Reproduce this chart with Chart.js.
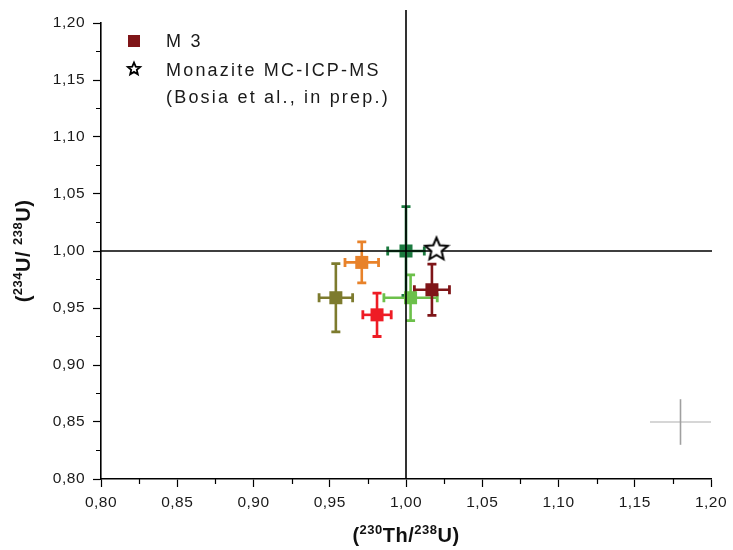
<!DOCTYPE html>
<html><head><meta charset="utf-8">
<style>html,body{margin:0;padding:0;background:#fff}</style>
<script src="https://cdn.jsdelivr.net/npm/chart.js@4.4.1/dist/chart.umd.min.js"></script>
</head><body>
<canvas id="c" width="733" height="550"></canvas>
<script>
// ---- data ----
const sampleNames = ['Orange', 'Olive', 'Red', 'Light green', 'M 3', 'Dark green'];
const sampleColors = ['#E8822A', '#7D7B2E', '#EE1C25', '#6CC04A', '#7F1518', '#1B7A3F'];
const th230U238 = [0.971, 0.954, 0.981, 1.003, 1.017, 1.000];
const u234U238 = [0.990, 0.959, 0.944, 0.959, 0.966, 1.000];
const th230Err = [0.011, 0.011, 0.0093, 0.0175, 0.0115, 0.012];
const u234Err = [0.018, 0.030, 0.019, 0.020, 0.0225, 0.039];
const monaziteX = [1.020];
const monaziteY = [1.002];
const scaleCrossX = [1.18];
const scaleCrossY = [0.85];
const scaleCrossErrX = [0.02];
const scaleCrossErrY = [0.02];
const axisMin = 0.80, axisMax = 1.20, majorStep = 0.05, minorStep = 0.025;
const equilibrium = 1.00;
const legendLabels = ['M 3', 'Monazite MC-ICP-MS', '(Bosia et al., in prep.)'];
const xTitleParts = [['(', 0], ['230', 1], ['Th/', 0], ['238', 1], ['U)', 0]];
const yTitleParts = [['(', 0], ['234', 1], ['U/ ', 0], ['238', 1], ['U)', 0]];

function fmt(v) { return v.toFixed(2).replace('.', ','); }

function drawStar(ctx, cx, cy, R, lw) {
  const r = R * 0.45;
  ctx.beginPath();
  for (let i = 0; i < 10; i++) {
    const a = -Math.PI / 2 + i * Math.PI / 5;
    const rr = i % 2 === 0 ? R : r;
    const px = cx + rr * Math.cos(a), py = cy + rr * Math.sin(a);
    if (i === 0) ctx.moveTo(px, py); else ctx.lineTo(px, py);
  }
  ctx.closePath();
  ctx.fillStyle = '#fff';
  ctx.fill();
  ctx.lineWidth = lw;
  ctx.strokeStyle = '#000';
  ctx.lineJoin = 'miter';
  ctx.stroke();
}

const starImg = document.createElement('canvas');
starImg.width = 28; starImg.height = 28;
drawStar(starImg.getContext('2d'), 14, 14.8, 12, 2);

function drawRich(ctx, parts, big, small, rise) {
  let w = 0;
  parts.forEach(p => { ctx.font = (p[1] ? small : big); w += ctx.measureText(p[0]).width; });
  let x = -w / 2;
  parts.forEach(p => {
    ctx.font = (p[1] ? small : big);
    ctx.fillText(p[0], x, p[1] ? -rise : 0);
    x += ctx.measureText(p[0]).width;
  });
}

const overlay = {
  id: 'overlay',
  beforeDraw(chart) { chart.ctx.letterSpacing = '0.5px'; },
  beforeDatasetDraw(chart, args) {
    const ctx = chart.ctx, xs = chart.scales.x, ys = chart.scales.y;
    const ds = chart.data.datasets[args.index];
    if (ds.errX) {
      ctx.save();
      ds.data.forEach((d, i) => {
        const cx = xs.getPixelForValue(d.x), cy = ys.getPixelForValue(d.y);
        const x0 = xs.getPixelForValue(d.x - ds.errX[i]), x1 = xs.getPixelForValue(d.x + ds.errX[i]);
        const y0 = ys.getPixelForValue(d.y - ds.errY[i]), y1 = ys.getPixelForValue(d.y + ds.errY[i]);
        const col = Array.isArray(ds.errColor) ? ds.errColor[i] : ds.errColor;
        const cap = ds.capSize || 0;
        ctx.strokeStyle = col;
        ctx.lineWidth = ds.errWidth;
        ctx.lineCap = 'butt';
        ctx.beginPath();
        ctx.moveTo(x0, cy); ctx.lineTo(x1, cy);
        ctx.stroke();
        if (ds.errColorV) ctx.strokeStyle = ds.errColorV;
        ctx.beginPath();
        ctx.moveTo(cx, y0); ctx.lineTo(cx, y1);
        ctx.stroke();
        if (cap) {
          ctx.strokeStyle = col;
          ctx.lineWidth = 2.8;
          ctx.beginPath();
          ctx.moveTo(x0, cy - cap); ctx.lineTo(x0, cy + cap);
          ctx.moveTo(x1, cy - cap); ctx.lineTo(x1, cy + cap);
          ctx.moveTo(cx - cap, y0); ctx.lineTo(cx + cap, y0);
          ctx.moveTo(cx - cap, y1); ctx.lineTo(cx + cap, y1);
          ctx.stroke();
        }
      });
      ctx.restore();
    }
    if (args.index === 0) {
      // equilibrium lines
      ctx.save();
      ctx.strokeStyle = '#000';
      ctx.lineWidth = 1.6;
      ctx.beginPath();
      const ex = xs.getPixelForValue(equilibrium), ey = ys.getPixelForValue(equilibrium);
      ctx.moveTo(ex, ys.getPixelForValue(axisMax) - 13); ctx.lineTo(ex, ys.getPixelForValue(axisMin));
      ctx.moveTo(xs.getPixelForValue(axisMin), ey); ctx.lineTo(xs.getPixelForValue(axisMax) + 1, ey);
      ctx.stroke();
      ctx.restore();
    }
  },
  afterDraw(chart) {
    const ctx = chart.ctx, xs = chart.scales.x, ys = chart.scales.y;
    ctx.save();
    // minor ticks
    ctx.strokeStyle = '#000';
    ctx.lineWidth = 1.2;
    ctx.beginPath();
    for (let v = axisMin + minorStep; v < axisMax; v += majorStep) {
      const px = Math.round(xs.getPixelForValue(v)) + 0.5;
      ctx.moveTo(px, chart.chartArea.bottom); ctx.lineTo(px, chart.chartArea.bottom + 5);
      const py = Math.round(ys.getPixelForValue(v)) + 0.5;
      ctx.moveTo(chart.chartArea.left, py); ctx.lineTo(chart.chartArea.left - 5, py);
    }
    ctx.stroke();
    // axis titles
    ctx.fillStyle = '#111';
    ctx.textBaseline = 'alphabetic';
    ctx.textAlign = 'left';
    ctx.letterSpacing = '0.5px';
    ctx.save();
    ctx.translate((chart.chartArea.left + chart.chartArea.right) / 2, 542);
    drawRich(ctx, xTitleParts, 'bold 20px "Liberation Sans", Arial, sans-serif', 'bold 13px "Liberation Sans", Arial, sans-serif', 8);
    ctx.restore();
    ctx.save();
    ctx.translate(30, (chart.chartArea.top + chart.chartArea.bottom) / 2);
    ctx.rotate(-Math.PI / 2);
    drawRich(ctx, yTitleParts, 'bold 20px "Liberation Sans", Arial, sans-serif', 'bold 13px "Liberation Sans", Arial, sans-serif', 8);
    ctx.restore();
    // legend
    ctx.letterSpacing = '2.2px';
    ctx.font = '18px "Liberation Sans", Arial, sans-serif';
    ctx.textBaseline = 'alphabetic';
    ctx.fillStyle = sampleColors[4];
    ctx.fillRect(128, 35, 12, 12);
    drawStar(ctx, 134, 69, 6.5, 1.8);
    ctx.fillStyle = '#1a1a1a';
    ctx.fillText(legendLabels[0], 166, 47);
    ctx.fillText(legendLabels[1], 166, 75.5);
    ctx.fillText(legendLabels[2], 166, 103);
    ctx.restore();
  }
};

const tickFont = { family: '"Liberation Sans", Arial, sans-serif', size: 15.5 };

new Chart(document.getElementById('c'), {
  type: 'scatter',
  data: {
    datasets: [
      {
        label: legendLabels[1],
        data: monaziteX.map((x, i) => ({ x, y: monaziteY[i] })),
        pointStyle: starImg,
        pointRadius: 12
      },
      {
        label: sampleNames.join(', '),
        data: th230U238.map((x, i) => ({ x, y: u234U238[i] })),
        pointStyle: 'rect',
        pointRadius: 9.2,
        pointBorderWidth: 0,
        pointBackgroundColor: sampleColors,
        pointBorderColor: sampleColors,
        errX: th230Err, errY: u234Err,
        errColor: sampleColors, errWidth: 2.6, capSize: 4.5
      },
      {
        label: 'uncertainty',
        data: scaleCrossX.map((x, i) => ({ x, y: scaleCrossY[i] })),
        pointRadius: 0,
        errX: scaleCrossErrX, errY: scaleCrossErrY,
        errColor: '#c8c8c8', errColorV: '#a0a0a0', errWidth: 1.6, capSize: 0
      }
    ]
  },
  options: {
    responsive: false,
    animation: false,
    events: [],
    layout: { padding: { left: 0, top: 23, right: 22, bottom: 0 } },
    plugins: { legend: { display: false }, tooltip: { enabled: false } },
    scales: {
      x: {
        type: 'linear', min: axisMin, max: axisMax,
        afterFit(s) { s.height = 71; },
        ticks: { stepSize: majorStep, callback: v => fmt(v), font: tickFont, color: '#1a1a1a', padding: 6, maxRotation: 0, autoSkip: false },
        grid: { display: true, drawOnChartArea: false, drawTicks: true, tickLength: 8, color: '#000', tickWidth: 1.2 },
        border: { display: true, color: '#000', width: 1.6 }
      },
      y: {
        type: 'linear', min: axisMin, max: axisMax,
        afterFit(s) { s.width = 101; },
        ticks: { stepSize: majorStep, callback: v => fmt(v), font: tickFont, color: '#1a1a1a', padding: 8, autoSkip: false },
        grid: { display: true, drawOnChartArea: false, drawTicks: true, tickLength: 8, color: '#000', tickWidth: 1.2 },
        border: { display: true, color: '#000', width: 1.6 }
      }
    }
  },
  plugins: [overlay]
});
</script>
</body></html>
